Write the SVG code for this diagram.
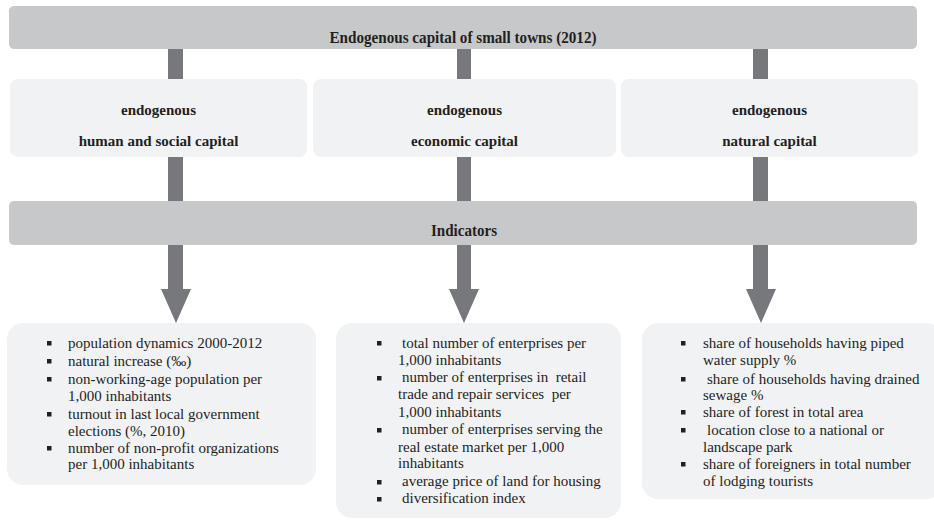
<svg xmlns="http://www.w3.org/2000/svg" width="934" height="521" viewBox="0 0 934 521" font-family="'Liberation Serif', 'DejaVu Serif', serif">
<style>
.bar{fill:#c7c8ca}
.box{fill:#f1f2f4}
.arr{fill:#77787b}
.ht{font-family:'Liberation Serif','DejaVu Serif',serif;font-weight:bold;fill:#231f20;text-anchor:middle}
.bt{font-family:'Liberation Serif','DejaVu Serif',serif;font-size:15px;fill:#231f20}
.bul{fill:#231f20}
</style>
<rect width="934" height="521" fill="#ffffff"/>
<g id="connectors">
  <rect class="arr" x="168" y="49" width="15" height="31"/>
  <rect class="arr" x="457" y="49" width="14" height="31"/>
  <rect class="arr" x="753" y="49" width="15" height="31"/>
  <rect class="arr" x="168" y="156" width="15" height="46"/>
  <rect class="arr" x="457" y="156" width="14" height="46"/>
  <rect class="arr" x="753" y="156" width="15" height="46"/>
  <path class="arr" d="M168 244H183V289H191L176 323L161 289H168Z"/>
  <path class="arr" d="M457 244H471V289H479L464 323L449 289H457Z"/>
  <path class="arr" d="M753 244H768V289H776L761 323L746 289H753Z"/>
</g>
<g id="top">
  <rect class="bar" x="9" y="6" width="908" height="43" rx="5"/>
  <text class="ht" x="463" y="43" font-size="16" textLength="267" lengthAdjust="spacingAndGlyphs">Endogenous capital of small towns (2012)</text>
</g>
<g id="human">
  <rect class="box" x="10" y="79" width="297" height="78" rx="8"/>
  <text class="ht" x="158.5" y="115" font-size="15">endogenous</text>
  <text class="ht" x="158.5" y="146" font-size="15">human and social capital</text>
</g>
<g id="economic">
  <rect class="box" x="313" y="79" width="303" height="78" rx="8"/>
  <text class="ht" x="464.5" y="115" font-size="15">endogenous</text>
  <text class="ht" x="464.5" y="146" font-size="15">economic capital</text>
</g>
<g id="natural">
  <rect class="box" x="621" y="79" width="297" height="78" rx="8"/>
  <text class="ht" x="769.5" y="115" font-size="15">endogenous</text>
  <text class="ht" x="769.5" y="146" font-size="15">natural capital</text>
</g>
<g id="indicators">
  <rect class="bar" x="9" y="201" width="908" height="44" rx="5"/>
  <text class="ht" x="464" y="236" font-size="16" textLength="66" lengthAdjust="spacingAndGlyphs">Indicators</text>
</g>
<g id="list-human">
  <rect class="box" x="7" y="323" width="309" height="162" rx="16"/>
  <rect class="bul" x="47" y="341" width="4.5" height="4.5"/>
  <rect class="bul" x="47" y="359" width="4.5" height="4.5"/>
  <rect class="bul" x="47" y="377" width="4.5" height="4.5"/>
  <rect class="bul" x="47" y="412" width="4.5" height="4.5"/>
  <rect class="bul" x="47" y="446" width="4.5" height="4.5"/>
  <text class="bt" x="68" y="348">population dynamics 2000-2012</text>
  <text class="bt" x="68" y="366">natural increase (‰)</text>
  <text class="bt" x="68" y="384">non-working-age population per</text>
  <text class="bt" x="68" y="401">1,000 inhabitants</text>
  <text class="bt" x="68" y="419">turnout in last local government</text>
  <text class="bt" x="68" y="436">elections (%, 2010)</text>
  <text class="bt" x="68" y="453">number of non-profit organizations</text>
  <text class="bt" x="68" y="469">per 1,000 inhabitants</text>
</g>
<g id="list-economic">
  <rect class="box" x="336" y="323" width="285" height="195" rx="16"/>
  <rect class="bul" x="377" y="341" width="4.5" height="4.5"/>
  <rect class="bul" x="377" y="376" width="4.5" height="4.5"/>
  <rect class="bul" x="377" y="428" width="4.5" height="4.5"/>
  <rect class="bul" x="377" y="480" width="4.5" height="4.5"/>
  <rect class="bul" x="377" y="497" width="4.5" height="4.5"/>
  <text class="bt" x="402" y="348">total number of enterprises per</text>
  <text class="bt" x="398" y="365">1,000 inhabitants</text>
  <text class="bt" x="402" y="382" xml:space="preserve">number of enterprises in  retail</text>
  <text class="bt" x="398" y="399" xml:space="preserve">trade and repair services  per</text>
  <text class="bt" x="398" y="417">1,000 inhabitants</text>
  <text class="bt" x="402" y="434">number of enterprises serving the</text>
  <text class="bt" x="398" y="452">real estate market per 1,000</text>
  <text class="bt" x="398" y="468">inhabitants</text>
  <text class="bt" x="402" y="486">average price of land for housing</text>
  <text class="bt" x="402" y="503">diversification index</text>
</g>
<g id="list-natural">
  <rect class="box" x="642" y="323" width="300" height="176" rx="16"/>
  <rect class="bul" x="681" y="341" width="4.5" height="4.5"/>
  <rect class="bul" x="681" y="377" width="4.5" height="4.5"/>
  <rect class="bul" x="681" y="410" width="4.5" height="4.5"/>
  <rect class="bul" x="681" y="428" width="4.5" height="4.5"/>
  <rect class="bul" x="681" y="462" width="4.5" height="4.5"/>
  <text class="bt" x="703" y="348">share of households having piped</text>
  <text class="bt" x="703" y="365">water supply %</text>
  <text class="bt" x="707" y="384">share of households having drained</text>
  <text class="bt" x="703" y="400">sewage %</text>
  <text class="bt" x="703" y="417">share of forest in total area</text>
  <text class="bt" x="707" y="435">location close to a national or</text>
  <text class="bt" x="703" y="452">landscape park</text>
  <text class="bt" x="703" y="469">share of foreigners in total number</text>
  <text class="bt" x="703" y="486">of lodging tourists</text>
</g>
</svg>
